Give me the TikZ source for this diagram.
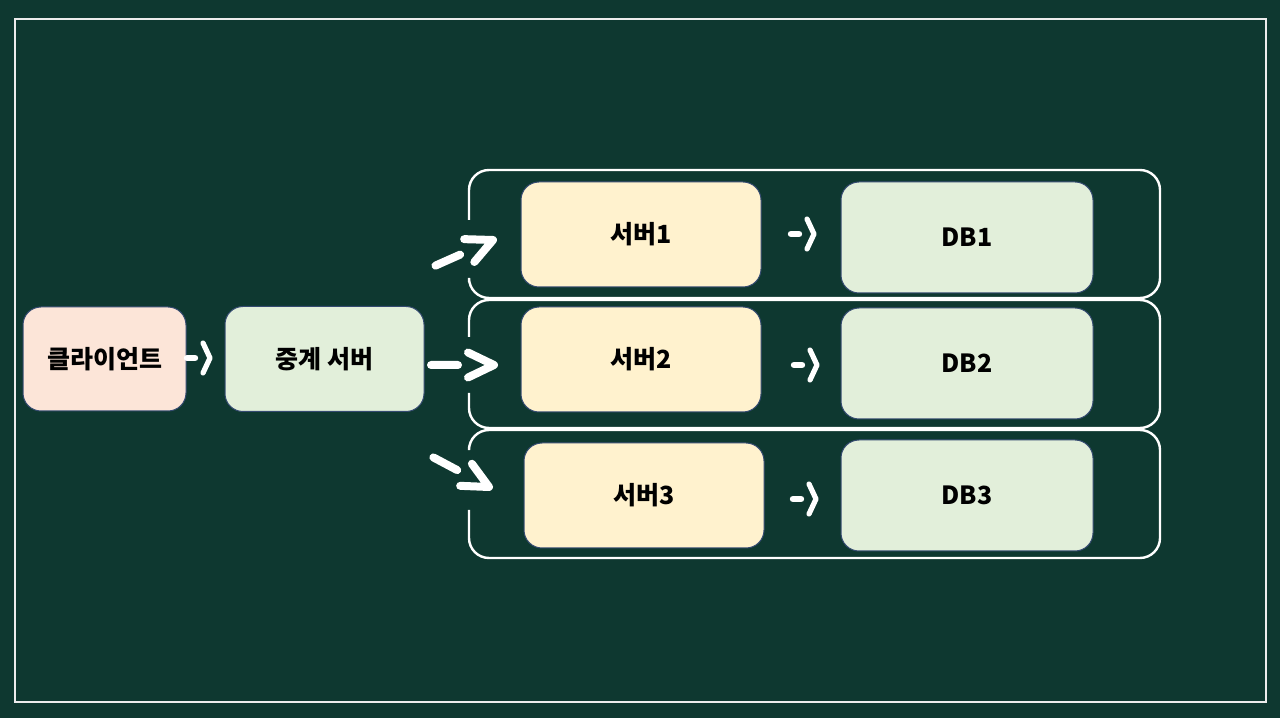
\documentclass[tikz,border=0pt]{standalone}
\usepackage{fontspec}
\setmainfont{Noto Sans CJK KR}[BoldFont={Noto Sans CJK KR Black}]
\usetikzlibrary{positioning}
\definecolor{board}{RGB}{14,56,48}
\definecolor{peach}{RGB}{252,229,216}
\definecolor{mint}{RGB}{226,239,218}
\definecolor{cream}{RGB}{255,242,206}
\definecolor{rim}{RGB}{52,74,112}

\begin{document}
\begin{tikzpicture}[x=0.5pt,y=0.5pt,
      box/.style={draw=rim, line width=0.5pt, rounded corners=9pt,
        font=\fontsize{12.5}{14}\selectfont\bfseries, text=black},
      client/.style={box, fill=peach, minimum width=81.5pt, minimum height=52pt},
      relay/.style={box, fill=mint, minimum width=99.5pt, minimum height=52.5pt},
      server/.style={box, fill=cream, minimum width=120pt, minimum height=52.5pt},
      db/.style={box, fill=mint, minimum width=126pt, minimum height=55.5pt},
      group/.style={draw=white, line width=1.2pt, rounded corners=10pt},
      stroke/.style={draw=white, line cap=round, line join=round},
      fwd/.pic={\draw[stroke, line width=4pt] (-63,0) -- (-36,0)
                  (-26,12.5) -- (0,0) -- (-26,-12.5);},
      sfwd/.pic={\draw[stroke, line width=3.2pt] (-23,0) -- (-15,0);
                 \draw[stroke, line width=2.6pt] (-7,15) -- (0,0) -- (-7,-15);}]
    \fill[board] (0,0) rectangle (1280,718);
    \draw[white!85!gray, line width=0.8pt] (15,16) rectangle (1266,699);
    % client and relay
    \node[client] (cli) at (104.5,359) {클라이언트};
    \node[relay] (rel) [right=19pt of cli] {중계 서버};
    % servers and databases
    \node[server] (srv1) at (641,483.5) {서버1};
    \node[server] (srv2) at (641,358.5) {서버2};
    \node[server] (srv3) at (644,222.5) {서버3};
    \node[db] (db1) at (967,480.5) {DB1};
    \node[db] (db2) at (967,354.5) {DB2};
    \node[db] (db3) at (967,222.5) {DB3};
    % groups, open where the arrows come in
    \draw[group] (469,498) -- (469,548) -- (1160,548) -- (1160,420) -- (469,420) -- (469,436);
    \draw[group] (469,381) -- (469,418) -- (1160,418) -- (1160,290) -- (469,290) -- (469,325);
    \draw[group] (469,271) -- (469,288) -- (1160,288) -- (1160,160) -- (469,160) -- (469,208);
    % arrows
    \pic at (210,360) {sfwd};
    \pic[rotate=24] at (493,478) {fwd};
    \pic at (494,353) {fwd};
    \pic[rotate=-28] at (489,231) {fwd};
    \pic at (814,484) {sfwd};
    \pic at (817,353) {sfwd};
    \pic at (816,219) {sfwd};
  \end{tikzpicture}
\end{document}
